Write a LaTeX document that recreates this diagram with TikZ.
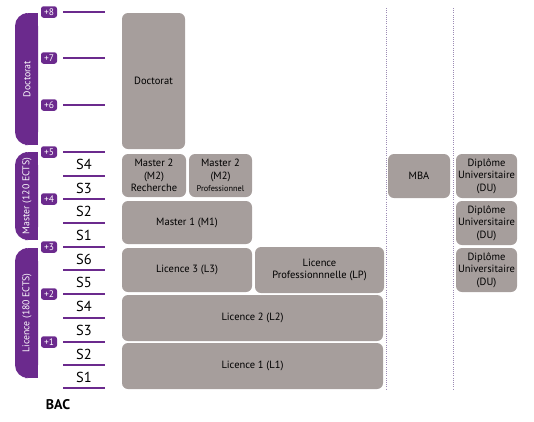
\documentclass[tikz,border=0pt]{standalone}
\usepackage{fontspec}
\setmainfont{PT Sans}
\setsansfont{PT Sans}
\definecolor{purp}{HTML}{6B2A8D}
\definecolor{gbg}{HTML}{A69E9C}
\definecolor{dotc}{HTML}{9C8BB4}
\tikzset{
  gbox/.style={fill=gbg, rounded corners=6pt, align=center, inner sep=1pt, font=\fontsize{10.5}{12.5}\selectfont, text=black},
  rung/.style={draw=purp, line width=2.7pt},
  badge/.style={fill=purp, rounded corners=2.5pt, text=white, minimum width=16pt, minimum height=11.5pt, inner sep=0pt, font=\fontsize{9.5}{9.5}\selectfont},
  slabel/.style={font=\fontsize{14.5}{14.5}\selectfont, inner sep=0pt},
  bracklabel/.style={rotate=90, text=white, font=\fontsize{9.8}{9.8}\selectfont, inner sep=0pt},
  dotline/.style={draw=dotc, dash pattern=on 1pt off 1.2pt, line width=1pt}
}
\newcommand\gb[6]{\node[gbox, minimum width={#4-#2}, minimum height={#5-#3}] (#1) at ({(#2+#4)/2},{(#3+#5)/2}) {#6};}
\newcommand\brk[4]{%
  \fill[purp, rounded corners=13pt] (15,#2) rectangle (38,#3);
  \fill[purp] (28,#2) rectangle (38,#3);
  \node[bracklabel] (#1) at (27,{(#2+#3)/2}) {#4};}
\begin{document}
\begin{tikzpicture}[x=1pt,y=-1pt]
\useasboundingbox (0,0) rectangle (534,421);
% dotted separators
\coordinate (da1) at (386,8); \coordinate (da2) at (386,389);
\coordinate (db1) at (453,8); \coordinate (db2) at (453,389);
\draw[dotline] (da1) -- (da2);
\draw[dotline] (db1) -- (db2);
% rungs
\foreach \y [count=\i] in {12,58,105,152,176,199,223,247,270,294,318,342,365,388}{
  \coordinate (ra\i) at (63,\y); \coordinate (rb\i) at (105,\y);
  \draw[rung] (ra\i) -- (rb\i);
}
% badges
\foreach \lab/\y in {8/12,7/58,6/105,5/152,4/199,3/247,2/294,1/342}{
  \node[badge] (b\lab) at (49,\y) {+\lab};
}
% semester labels
\foreach \lab/\y [count=\i] in {S4/164.5,S3/188,S2/211.5,S1/235.5,S6/259,S5/282.5,S4/306.5,S3/330.5,S2/354,S1/377.5}{
  \node[slabel] (s\i) at (84,\y) {\lab};
}
% brackets
\brk{bdoc}{13}{145}{Doctorat}
\brk{bmas}{152}{240}{Master (120 ECTS)}
\brk{blic}{248}{378}{Licence (180 ECTS)}
% boxes
\gb{doc}{122}{13}{185}{149}{Doctorat}
\gb{m2r}{122}{154}{186}{197}{Master 2\\(M2)\\Recherche}
\gb{m2p}{189}{154}{252}{197}{Master 2\\(M2)\\{\fontsize{8.3}{10}\selectfont Professionnel}}
\gb{m1}{122}{201}{252}{244}{Master 1 (M1)}
\gb{l3}{122}{248}{252}{292}{Licence 3 (L3)}
\gb{lp}{255}{247}{384}{293}{Licence\\Professionnnelle (LP)}
\gb{l2}{122}{295}{383}{341}{Licence 2 (L2)}
\gb{l1}{122}{343}{383}{389}{Licence 1 (L1)}
\gb{mba}{388}{154}{450}{198}{MBA}
\gb{du1}{456}{154}{517}{198}{Diplôme\\Universitaire\\(DU)}
\gb{du2}{456}{201}{517}{245}{Diplôme\\Universitaire\\(DU)}
\gb{du3}{456}{248}{517}{292}{Diplôme\\Universitaire\\(DU)}
% BAC
\node[font=\bfseries\fontsize{14}{14}\selectfont, inner sep=0pt] (bac) at (58,405) {BAC};
\end{tikzpicture}
\end{document}
